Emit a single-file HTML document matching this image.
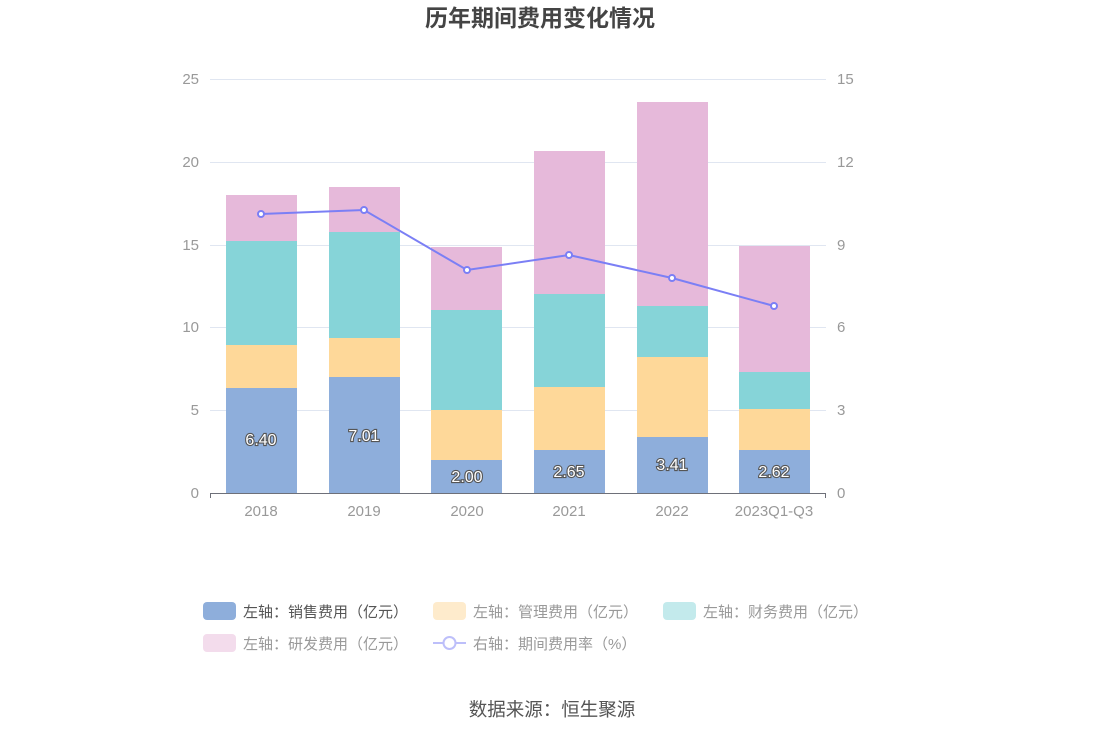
<!DOCTYPE html>
<html><head><meta charset="utf-8"><style>
body{margin:0;background:#fff;}
svg{display:block;font-family:"Liberation Sans","Noto Sans CJK SC",sans-serif;}
</style></head><body>
<svg width="1105" height="736" viewBox="0 0 1105 736">
<text x="540" y="26" text-anchor="middle" font-size="23" font-weight="bold" fill="#444">历年期间费用变化情况</text>
<g stroke="#e0e6f1" stroke-width="1">
<line x1="210" x2="826" y1="79.5" y2="79.5"/>
<line x1="210" x2="826" y1="162.5" y2="162.5"/>
<line x1="210" x2="826" y1="245.5" y2="245.5"/>
<line x1="210" x2="826" y1="327.5" y2="327.5"/>
<line x1="210" x2="826" y1="410.5" y2="410.5"/>
</g>
<g font-size="15" fill="#999" text-anchor="end">
<text x="199" y="84">25</text><text x="199" y="167">20</text><text x="199" y="250">15</text>
<text x="199" y="332">10</text><text x="199" y="415">5</text><text x="199" y="498">0</text>
</g>
<g font-size="15" fill="#999" text-anchor="start">
<text x="837" y="84">15</text><text x="837" y="167">12</text><text x="837" y="250">9</text>
<text x="837" y="332">6</text><text x="837" y="415">3</text><text x="837" y="498">0</text>
</g>
<g>
<rect x="226" y="195" width="71" height="46" fill="#e6b9da"/>
<rect x="226" y="241" width="71" height="104" fill="#86d4d8"/>
<rect x="226" y="345" width="71" height="43" fill="#fed899"/>
<rect x="226" y="388" width="71" height="105" fill="#8eaedb"/>
<rect x="329" y="187" width="71" height="45" fill="#e6b9da"/>
<rect x="329" y="232" width="71" height="106" fill="#86d4d8"/>
<rect x="329" y="338" width="71" height="39" fill="#fed899"/>
<rect x="329" y="377" width="71" height="116" fill="#8eaedb"/>
<rect x="431" y="247" width="71" height="63" fill="#e6b9da"/>
<rect x="431" y="310" width="71" height="100" fill="#86d4d8"/>
<rect x="431" y="410" width="71" height="50" fill="#fed899"/>
<rect x="431" y="460" width="71" height="33" fill="#8eaedb"/>
<rect x="534" y="151" width="71" height="143" fill="#e6b9da"/>
<rect x="534" y="294" width="71" height="93" fill="#86d4d8"/>
<rect x="534" y="387" width="71" height="63" fill="#fed899"/>
<rect x="534" y="450" width="71" height="43" fill="#8eaedb"/>
<rect x="637" y="102" width="71" height="204" fill="#e6b9da"/>
<rect x="637" y="306" width="71" height="51" fill="#86d4d8"/>
<rect x="637" y="357" width="71" height="80" fill="#fed899"/>
<rect x="637" y="437" width="71" height="56" fill="#8eaedb"/>
<rect x="739" y="246" width="71" height="126" fill="#e6b9da"/>
<rect x="739" y="372" width="71" height="37" fill="#86d4d8"/>
<rect x="739" y="409" width="71" height="41" fill="#fed899"/>
<rect x="739" y="450" width="71" height="43" fill="#8eaedb"/>
</g>
<line x1="210" x2="826" y1="493.5" y2="493.5" stroke="#6e7079"/>
<g stroke="#6e7079"><line x1="210.5" x2="210.5" y1="493" y2="498"/><line x1="825.5" x2="825.5" y1="493" y2="498"/></g>
<g font-size="15" fill="#999" text-anchor="middle">
<text x="261" y="516">2018</text><text x="364" y="516">2019</text><text x="467" y="516">2020</text>
<text x="569" y="516">2021</text><text x="672" y="516">2022</text><text x="774" y="516">2023Q1-Q3</text>
</g>
<g font-size="16" fill="#fff" stroke="#555" stroke-width="2.2" paint-order="stroke" text-anchor="middle">
<text x="261" y="445">6.40</text><text x="364" y="441">7.01</text><text x="467" y="482">2.00</text>
<text x="569" y="477">2.65</text><text x="672" y="470">3.41</text><text x="774" y="477">2.62</text>
</g>
<polyline points="261,214 364,210 467,270 569,255 672,278 774,306" fill="none" stroke="#7b7ff5" stroke-width="2"/>
<g fill="#fff" stroke="#7b7ff5" stroke-width="2">
<circle cx="261" cy="214" r="3"/><circle cx="364" cy="210" r="3"/><circle cx="467" cy="270" r="3"/>
<circle cx="569" cy="255" r="3"/><circle cx="672" cy="278" r="3"/><circle cx="774" cy="306" r="3"/>
</g>
<g font-size="15">
<rect x="203" y="602" width="33" height="18" rx="4" fill="#8eaedb"/>
<text x="243" y="617" fill="#555">左轴：销售费用（亿元）</text>
<rect x="433" y="602" width="33" height="18" rx="4" fill="#feebcc"/>
<text x="473" y="617" fill="#999">左轴：管理费用（亿元）</text>
<rect x="663" y="602" width="33" height="18" rx="4" fill="#c3eaec"/>
<text x="703" y="617" fill="#999">左轴：财务费用（亿元）</text>
<rect x="203" y="634" width="33" height="18" rx="4" fill="#f3dcec"/>
<text x="243" y="649" fill="#999">左轴：研发费用（亿元）</text>
<line x1="433" x2="466" y1="643" y2="643" stroke="#bdbffa" stroke-width="2"/>
<circle cx="449.5" cy="643" r="6" fill="#fff" stroke="#bdbffa" stroke-width="2"/>
<text x="473" y="649" fill="#999">右轴：期间费用率（%）</text>
</g>
<text x="552" y="716" text-anchor="middle" font-size="18.5" fill="#555">数据来源：恒生聚源</text>
</svg>
</body></html>
